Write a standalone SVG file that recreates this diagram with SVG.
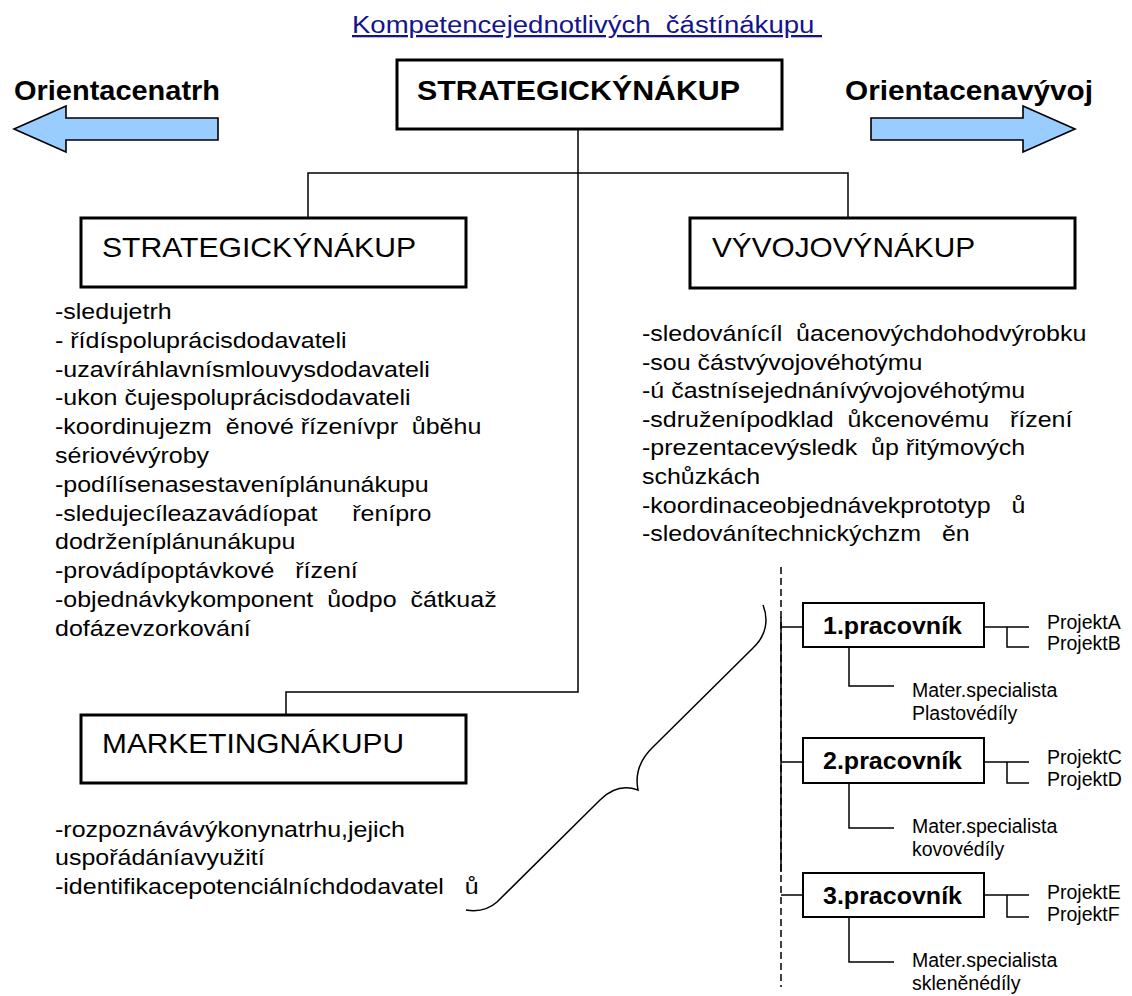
<svg xmlns="http://www.w3.org/2000/svg" width="1132" height="996" viewBox="0 0 1132 996">
<style>
text{font-family:"Liberation Sans",Arial,sans-serif;fill:#000}
.b{font-weight:bold}
.box{fill:#fff;stroke:#000;stroke-width:3}
.pbox{fill:#fff;stroke:#000;stroke-width:2}
.ln{fill:none;stroke:#000;stroke-width:1.5}
.lst{font-size:22.5px}
.sm{font-size:19.5px}
.arrow{fill:#99CCFF;stroke:#000;stroke-width:1.6;stroke-linejoin:miter}
</style>
<rect width="1132" height="996" fill="#fff"/>

<text x="352" y="33" font-size="23" textLength="470" lengthAdjust="spacingAndGlyphs" xml:space="preserve" style="fill:#14148c;text-decoration:underline">Kompetencejednotlivých  částínákupu </text>

<g id="orient-left">
<text class="b" x="14" y="100" font-size="27" textLength="206" lengthAdjust="spacingAndGlyphs">Orientacenatrh</text>
<polygon class="arrow" points="14,129 66,106 66,118 218,118 218,140 66,140 66,152"/>
</g>
<g id="orient-right">
<text class="b" x="845" y="100" font-size="27" textLength="248" lengthAdjust="spacingAndGlyphs">Orientacenavývoj</text>
<polygon class="arrow" points="1075,129 1023,106 1023,118 871,118 871,140 1023,140 1023,152"/>
</g>

<g id="connectors">
<path class="ln" d="M578,129 V692 H286 V715"/>
<path class="ln" d="M308,218 V173 H848 V218"/>
<line class="ln" x1="781" y1="567" x2="781" y2="987" stroke-dasharray="7,4"/>
<line class="ln" x1="781" y1="617" x2="781" y2="872"/>
<path class="ln" d="M781,627 H803 M781,762 H803 M781,895 H803"/>
<path class="ln" d="M984,627 H1029 M1007,627 V647 H1029"/>
<path class="ln" d="M984,762 H1029 M1007,762 V783 H1029"/>
<path class="ln" d="M984,895 H1029 M1007,895 V917 H1029"/>
<path class="ln" d="M849,647 V686 H894"/>
<path class="ln" d="M849,783 V828 H894"/>
<path class="ln" d="M849,917 V962 H894"/>
<path class="ln" d="M763,605 C769,620 766,636 753,648 L652,748 C640,760 635,775 638,790 C624,785 611,789 600,800 L497,902 C488,910 478,912 466,910"/>
</g>

<g id="top-box">
<rect class="box" x="397" y="60" width="385" height="69"/>
<text class="b" x="417" y="100" font-size="28" textLength="323" lengthAdjust="spacingAndGlyphs">STRATEGICKÝNÁKUP</text>
</g>

<g id="strategic-box">
<rect class="box" x="81" y="218" width="385" height="69"/>
<text x="102" y="257" font-size="28" textLength="314" lengthAdjust="spacingAndGlyphs">STRATEGICKÝNÁKUP</text>
</g>

<g id="strategic-list" transform="matrix(1.111 0 0 1 55 0)">
<text class="lst" xml:space="preserve"><tspan x="0" y="319">-sledujetrh</tspan><tspan x="0" y="347.8">- řídíspoluprácisdodavateli</tspan><tspan x="0" y="376.6">-uzavíráhlavnísmlouvysdodavateli</tspan><tspan x="0" y="405.4">-ukon čujespoluprácisdodavateli</tspan><tspan x="0" y="434.2">-koordinujezm  ěnové řízenívpr  ůběhu</tspan><tspan x="0" y="463">sériovévýroby</tspan><tspan x="0" y="491.8">-podílísenasestaveníplánunákupu</tspan><tspan x="0" y="520.6">-sledujecíleazavádíopat     řenípro</tspan><tspan x="0" y="549.4">dodrženíplánunákupu</tspan><tspan x="0" y="578.2">-provádípoptávkové   řízení</tspan><tspan x="0" y="607">-objednávkykomponent  ůodpo  čátkuaž</tspan><tspan x="0" y="635.8">dofázevzorkování</tspan></text>
</g>

<g id="dev-box">
<rect class="box" x="690" y="218" width="385" height="70"/>
<text x="712" y="257" font-size="28" textLength="263" lengthAdjust="spacingAndGlyphs">VÝVOJOVÝNÁKUP</text>
</g>

<g id="dev-list" transform="matrix(1.111 0 0 1 642 0)">
<text class="lst" xml:space="preserve"><tspan x="0" y="341">-sledovánícíl  ůacenovýchdohodvýrobku</tspan><tspan x="0" y="369.6">-sou částvývojovéhotýmu</tspan><tspan x="0" y="398.2">-ú častnísejednánívývojovéhotýmu</tspan><tspan x="0" y="426.8">-sdruženípodklad  ůkcenovému   řízení</tspan><tspan x="0" y="455.4">-prezentacevýsledk  ůp řitýmových</tspan><tspan x="0" y="484">schůzkách</tspan><tspan x="0" y="512.6">-koordinaceobjednávekprototyp   ů</tspan><tspan x="0" y="541.2">-sledovánítechnickýchzm   ěn</tspan></text>
</g>

<g id="marketing-box">
<rect class="box" x="81" y="715" width="385" height="68"/>
<text x="102" y="753" font-size="28" textLength="302" lengthAdjust="spacingAndGlyphs">MARKETINGNÁKUPU</text>
</g>

<g id="marketing-list" transform="matrix(1.111 0 0 1 55 0)">
<text class="lst" xml:space="preserve"><tspan x="0" y="837">-rozpoznávávýkonynatrhu,jejich</tspan><tspan x="0" y="865.5">uspořádáníavyužití</tspan><tspan x="0" y="894">-identifikacepotenciálníchdodavatel   ů</tspan></text>
</g>

<g id="worker-1">
<rect class="pbox" x="803" y="603" width="181" height="44"/>
<text class="b" x="823" y="634" font-size="23" textLength="139" lengthAdjust="spacingAndGlyphs">1.pracovník</text>
<text class="sm" x="1047" y="629">ProjektA</text>
<text class="sm" x="1047" y="650">ProjektB</text>
<text class="sm" x="912" y="697">Mater.specialista</text>
<text class="sm" x="912" y="720">Plastovédíly</text>
</g>

<g id="worker-2">
<rect class="pbox" x="803" y="738" width="181" height="45"/>
<text class="b" x="823" y="769" font-size="23" textLength="139" lengthAdjust="spacingAndGlyphs">2.pracovník</text>
<text class="sm" x="1047" y="764">ProjektC</text>
<text class="sm" x="1047" y="786">ProjektD</text>
<text class="sm" x="912" y="833">Mater.specialista</text>
<text class="sm" x="912" y="856">kovovédíly</text>
</g>

<g id="worker-3">
<rect class="pbox" x="803" y="873" width="181" height="44"/>
<text class="b" x="823" y="904" font-size="23" textLength="139" lengthAdjust="spacingAndGlyphs">3.pracovník</text>
<text class="sm" x="1047" y="899">ProjektE</text>
<text class="sm" x="1047" y="921">ProjektF</text>
<text class="sm" x="912" y="967">Mater.specialista</text>
<text class="sm" x="912" y="990">skleněnédíly</text>
</g>
</svg>
